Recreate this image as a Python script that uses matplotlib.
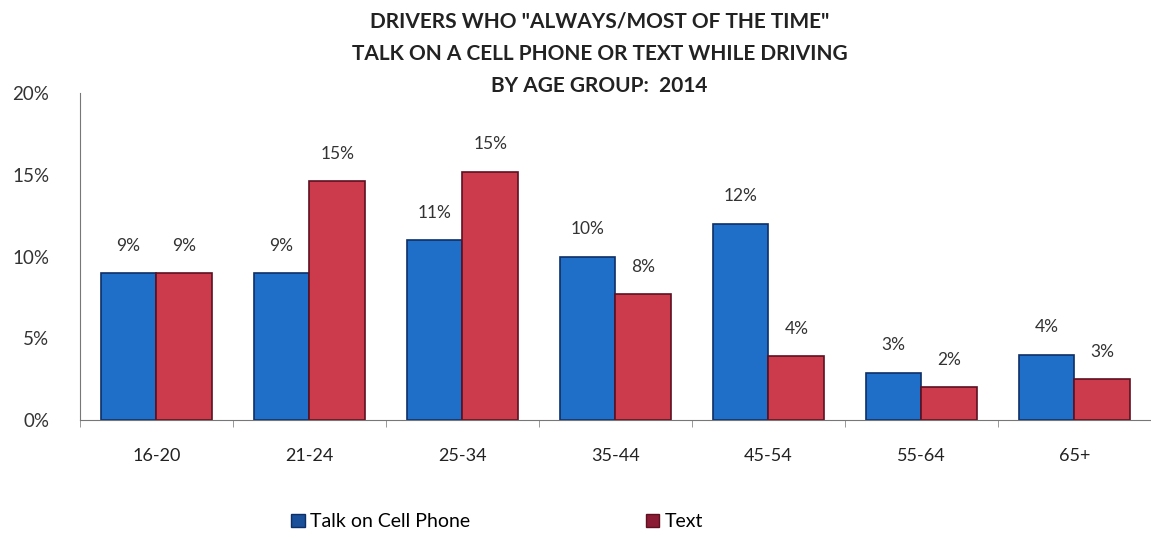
import matplotlib
matplotlib.use("Agg")
from matplotlib import pyplot as plt
from matplotlib.patches import Patch
import numpy as np

age_groups = ["16-20", "21-24", "25-34", "35-44", "45-54", "55-64", "65+"]
talk = [9.0, 9.0, 11.0, 10.0, 12.0, 2.9, 4.0]
text = [9.0, 14.6, 15.2, 7.7, 3.9, 2.0, 2.5]
talk_labels = ["9%", "9%", "11%", "10%", "12%", "3%", "4%"]
text_labels = ["9%", "15%", "15%", "8%", "4%", "2%", "3%"]
y_ticks = [0, 5, 10, 15, 20]

plt.rcParams["font.family"] = ["Lato", "DejaVu Sans"]

fig = plt.figure(figsize=(11.51, 5.38), dpi=100)
ax = fig.add_axes([0.0695, 0.219, 0.9305, 0.608])

x = np.arange(len(age_groups))
w = 0.365
blue = "#1f6ec8"
red = "#cc3b4c"
ax.bar(x - w / 2, talk, w, color=blue, edgecolor="#0d2f66", linewidth=1.2)
ax.bar(x + w / 2, text, w, color=red, edgecolor="#5e1020", linewidth=1.2)

for i in range(len(age_groups)):
    ax.annotate(talk_labels[i], (x[i] - w / 2, talk[i]), xytext=(0, 14),
                textcoords="offset points", ha="center", va="bottom",
                fontsize=12.5, color="#333333")
    ax.annotate(text_labels[i], (x[i] + w / 2, text[i]), xytext=(0, 14),
                textcoords="offset points", ha="center", va="bottom",
                fontsize=12.5, color="#333333")

ax.set_xlim(-0.5, 6.48)
ax.set_ylim(0, 20)
ax.set_yticks(y_ticks)
ax.set_yticklabels([f"{v}%" for v in y_ticks], fontsize=13.5, color="#333333")
ax.tick_params(axis="y", length=0, pad=22)

ax.set_xticks(x)
ax.set_xticklabels(age_groups, fontsize=13, color="#222222")
ax.tick_params(axis="x", length=0, pad=20)
ax.set_xticks(np.arange(-0.5, 7, 1), minor=True)
ax.tick_params(axis="x", which="minor", length=5, color="#888888")

for s in ["top", "right"]:
    ax.spines[s].set_visible(False)
ax.spines["left"].set_color("#777777")
ax.spines["bottom"].set_color("#777777")

fig.text(0.521, 0.978, 'DRIVERS WHO "ALWAYS/MOST OF THE TIME"\n'
         'TALK ON A CELL PHONE OR TEXT WHILE DRIVING\nBY AGE GROUP:  2014',
         ha="center", va="top", fontsize=15, fontweight="bold",
         color="#222222", linespacing=1.75)

handles = [Patch(facecolor="#1a4f9a", edgecolor="#0d2f66"),
           Patch(facecolor="#8b1a35", edgecolor="#5e1020")]
fig.legend(handles, ["Talk on Cell Phone", "Text"], loc="center",
           bbox_to_anchor=(0.432, 0.03), ncol=2, frameon=False,
           fontsize=14, handlelength=0.7, handleheight=0.7,
           handletextpad=0.3, columnspacing=9)

fig.savefig("out.png", dpi=100)
